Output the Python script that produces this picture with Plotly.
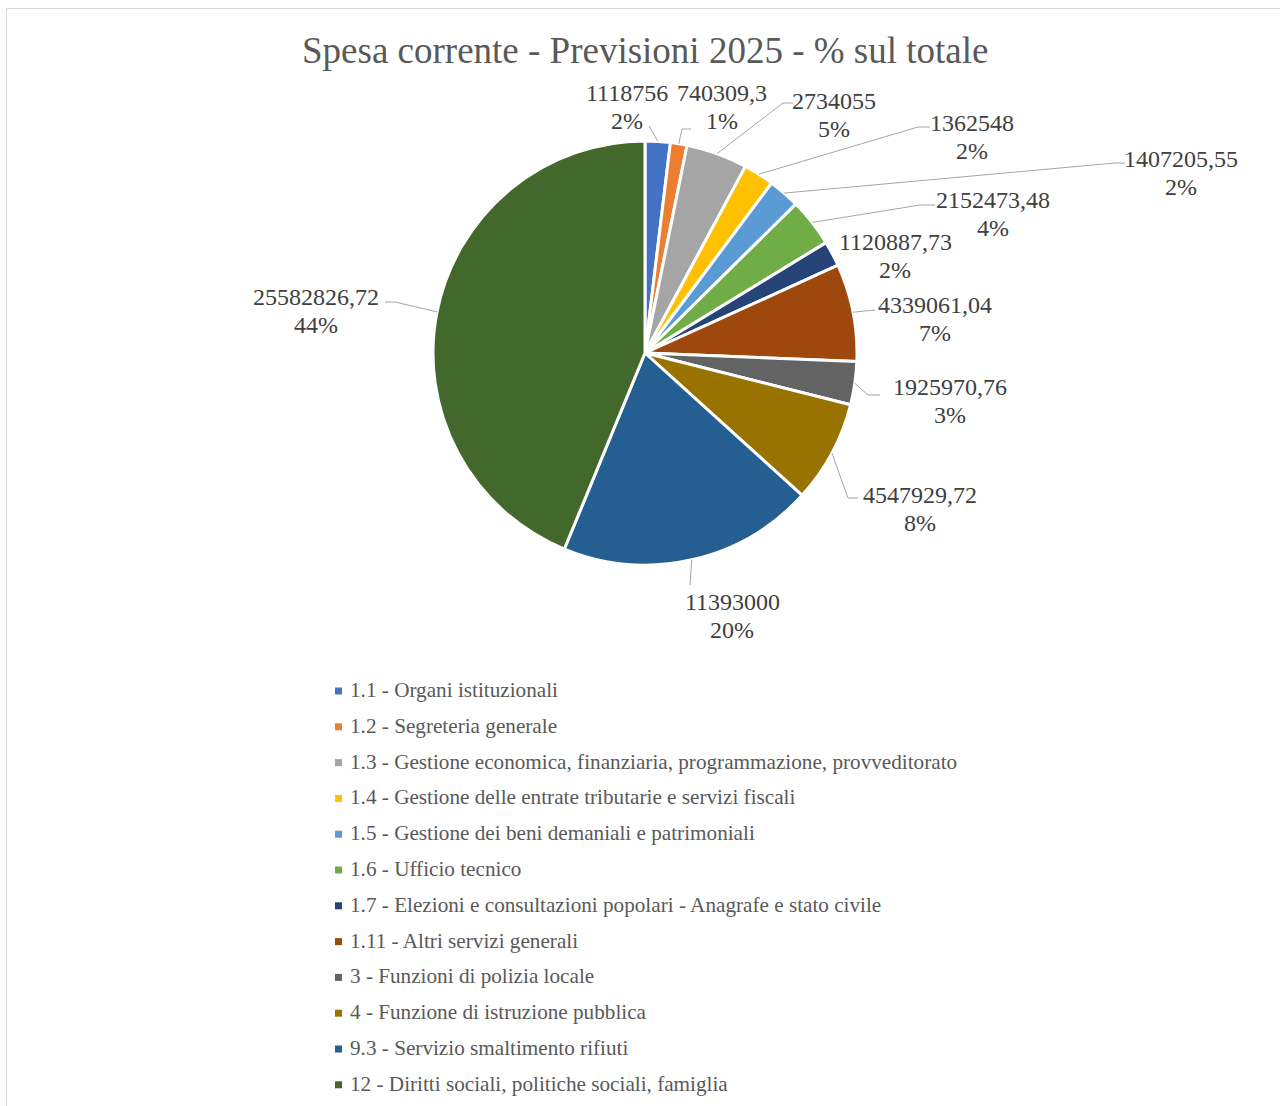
import math
import plotly.graph_objects as go

# ---------------- data ----------------
categories = [
    "1.1 - Organi istituzionali",
    "1.2 - Segreteria generale",
    "1.3 - Gestione economica, finanziaria, programmazione, provveditorato",
    "1.4 - Gestione delle entrate tributarie e servizi fiscali",
    "1.5 - Gestione dei beni demaniali e patrimoniali",
    "1.6 - Ufficio tecnico",
    "1.7 - Elezioni e consultazioni popolari - Anagrafe e stato civile",
    "1.11 - Altri servizi generali",
    "3 - Funzioni di polizia locale",
    "4 - Funzione di istruzione pubblica",
    "9.3 - Servizio smaltimento rifiuti",
    "12 - Diritti sociali, politiche sociali, famiglia",
]
values = [1118756, 740309.3, 2734055, 1362548, 1407205.55, 2152473.48,
          1120887.73, 4339061.04, 1925970.76, 4547929.72, 11393000, 25582826.72]
title_text = "Spesa corrente - Previsioni 2025 - % sul totale"

# ---------------- styles / layout ----------------
colors = ["#4472C4", "#ED7D31", "#A5A5A5", "#FFC000", "#5B9BD5", "#70AD47",
          "#264478", "#9E480E", "#636363", "#997300", "#255E91", "#43682B"]
W, H = 1280, 1106
CX, CY, R = 645, 353, 212
FONT = "Liberation Serif"
LINE_GAP = 27.5

# label centre positions (pixels) and leader-line waypoints (pixels)
label_pos = [(627, 107), (722, 107), (834, 115), (972, 137), (1181, 173), (993, 214),
             (895, 256), (935, 319), (950, 401), (920, 509), (732, 616), (316, 311)]
leaders = [
    [(649, 126)],
    [(682, 129), (691, 129)],
    [(783, 103), (793, 103)],
    [(918, 127), (930, 127)],
    [(1115, 163), (1125, 163)],
    [(920, 205), (935, 205)],
    None,
    [(875, 310)],
    [(868, 395), (880, 395)],
    [(848, 498), (858, 498)],
    [(690, 585)],
    [(395, 302), (385, 302)],
]

def px(x):
    return x / W

def py(y):
    return 1 - y / H

def fmt(v):
    if abs(v - round(v)) < 1e-9:
        return str(int(round(v)))
    s = f"{v:.2f}".rstrip("0").rstrip(".")
    return s.replace(".", ",")

total = sum(values)

fig = go.Figure()
fig.add_trace(go.Pie(
    labels=categories, values=values, sort=False, direction="clockwise",
    rotation=0, textinfo="none", hoverinfo="label+value+percent",
    marker=dict(colors=colors, line=dict(color="white", width=3)),
    domain=dict(x=[px(CX - R), px(CX + R)], y=[py(CY + R), py(CY - R)]),
    showlegend=False,
))

shapes = []
annotations = []

# frame
shapes.append(dict(type="rect", xref="paper", yref="paper",
                   x0=px(6.5), x1=1.05, y0=-0.05, y1=py(8.5),
                   line=dict(color="#D9D9D9", width=1), fillcolor="rgba(0,0,0,0)"))

# data labels + leader lines
cum = 0
for i, v in enumerate(values):
    frac_mid = (cum + v / 2) / total
    cum += v
    th = 2 * math.pi * frac_mid
    ex, ey = CX + R * math.sin(th), CY - R * math.cos(th)
    pct = round(v / total * 100)
    lx, ly = label_pos[i]
    for txt, yy in ((fmt(v), ly - LINE_GAP / 2), (f"{pct}%", ly + LINE_GAP / 2)):
        annotations.append(dict(
            x=px(lx), y=py(yy), xref="paper", yref="paper", showarrow=False,
            text=txt, xanchor="center", yanchor="middle",
            font=dict(family=FONT, size=24, color="#404040"),
        ))
    if leaders[i]:
        pts = [(ex, ey)] + leaders[i]
        path = "M " + " L ".join(f"{px(a)},{py(b)}" for a, b in pts)
        shapes.append(dict(type="path", xref="paper", yref="paper", path=path,
                           line=dict(color="#A6A6A6", width=1)))

# legend (custom)
for i, (c, col) in enumerate(zip(categories, colors)):
    y = 690 + i * 35.8
    shapes.append(dict(type="rect", xref="paper", yref="paper",
                       x0=px(335), x1=px(342), y0=py(694.5 + i * 35.8), y1=py(687.5 + i * 35.8),
                       fillcolor=col, line=dict(width=0)))
    annotations.append(dict(
        x=px(348), y=py(y), xref="paper", yref="paper", showarrow=False,
        text=c, xanchor="left", yanchor="middle",
        font=dict(family=FONT, size=21.2, color="#595959"),
    ))

# title
annotations.append(dict(
    x=px(645), y=py(50), xref="paper", yref="paper", showarrow=False,
    text=title_text, xanchor="center", yanchor="middle",
    font=dict(family=FONT, size=37, color="#595959"),
))

fig.update_layout(
    width=W, height=H, margin=dict(l=0, r=0, t=0, b=0),
    paper_bgcolor="white", plot_bgcolor="white",
    shapes=shapes, annotations=annotations, showlegend=False,
)

fig.write_html("out.html")
